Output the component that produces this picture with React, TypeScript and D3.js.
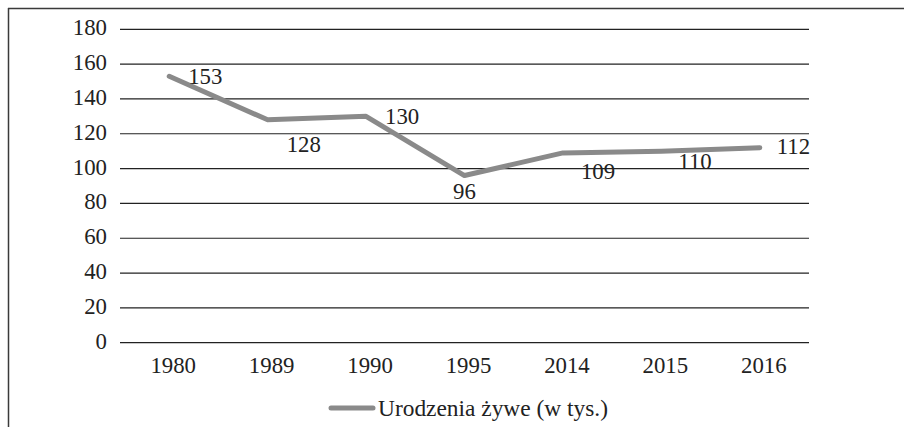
import React from "react";
import * as d3 from "d3";

const categories = ["1980", "1989", "1990", "1995", "2014", "2015", "2016"];
const values = [153, 128, 130, 96, 109, 110, 112];
const yTicks = [0, 20, 40, 60, 80, 100, 120, 140, 160, 180];
const seriesName = "Urodzenia żywe (w tys.)";
// label placement offsets (dx, dy) relative to each point
const labelOffsets: [number, number, string][] = [
  [19, 0, "start"],
  [19, 25, "start"],
  [19, 0, "start"],
  [0, 16, "middle"],
  [18, 19, "start"],
  [17, 10, "start"],
  [17, -1, "start"],
];

const W = 904;
const H = 427;
const FONT = "Liberation Serif, DejaVu Serif, serif";

export default function App() {
  const x = d3.scaleBand<string>().domain(categories).range([120, 809]);
  const y = d3.scaleLinear().domain([0, 180]).range([342.7, 29.3]);
  const line = d3
    .line<number>()
    .x((_, i) => (x(categories[i]) as number) + x.bandwidth() / 2)
    .y((d) => y(d));

  const ts: React.CSSProperties = { fontFamily: FONT, fontSize: 22.8 };

  return (
    <svg
      width={W}
      height={H}
      style={{ position: "absolute", left: 0, top: 0, background: "#fff", fontFamily: FONT }}
    >
      <rect x={0} y={0} width={W} height={H} fill="#fff" />
      {/* outer frame */}
      <line x1={8} y1={8.5} x2={W} y2={8.5} stroke="#3a3a3a" strokeWidth={1.5} />
      <line x1={8.5} y1={8} x2={8.5} y2={H} stroke="#3a3a3a" strokeWidth={1.5} />

      {yTicks.map((t) => (
        <g key={t}>
          <line x1={120} x2={809} y1={y(t)} y2={y(t)} stroke="#222" strokeWidth={1.2} />
          <text
            x={107}
            y={y(t) - 1.5}
            textAnchor="end"
            dominantBaseline="central"
            style={ts}
            fill="#222"
          >
            {t}
          </text>
        </g>
      ))}

      {categories.map((c) => (
        <text
          key={c}
          x={(x(c) as number) + x.bandwidth() / 2 + 4}
          y={365}
          textAnchor="middle"
          dominantBaseline="central"
          style={ts}
          fill="#222"
        >
          {c}
        </text>
      ))}

      <path
        d={line(values) || ""}
        fill="none"
        stroke="#8a8a8a"
        strokeWidth={5}
        strokeLinecap="round"
        strokeLinejoin="round"
      />

      {values.map((v, i) => {
        const px = (x(categories[i]) as number) + x.bandwidth() / 2;
        const [dx, dy, anchor] = labelOffsets[i];
        return (
          <text
            key={i}
            x={px + dx}
            y={y(v) + dy}
            textAnchor={anchor as any}
            dominantBaseline="central"
            style={ts}
            fill="#222"
          >
            {v}
          </text>
        );
      })}

      {/* legend */}
      <line x1={331} x2={373} y1={408} y2={408} stroke="#8a8a8a" strokeWidth={5} strokeLinecap="round" />
      <text x={378} y={408} dominantBaseline="central" style={{ ...ts, fontSize: 23.4 }} fill="#222">
        {seriesName}
      </text>
    </svg>
  );
}
